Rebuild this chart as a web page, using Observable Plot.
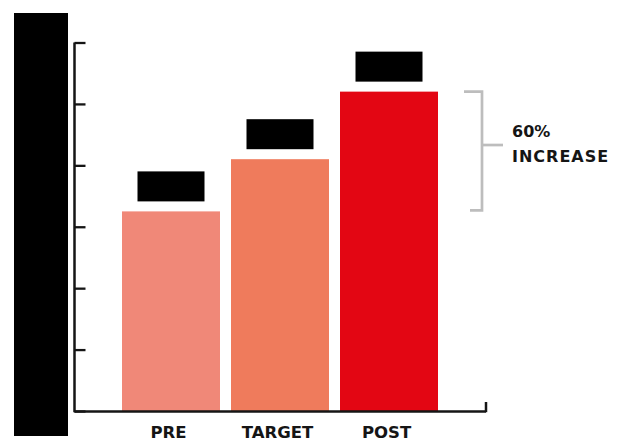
<!DOCTYPE html>
<html>
<head>
<meta charset="utf-8">
<script src="https://cdn.jsdelivr.net/npm/d3@7"></script>
<script src="https://cdn.jsdelivr.net/npm/@observablehq/plot@0.6"></script>
<style>
  body { margin: 0; background: #fff; }
  #chart { position: relative; width: 624px; height: 441px; }
</style>
</head>
<body>
<div id="chart"></div>
<script>
// Phases and measured values
const phases = ["PRE", "TARGET", "POST"];
const values = [32.5, 41, 52];
const barColors = ["#F08878", "#EF7B5C", "#E30613"];
const yTicks = [0, 10, 20, 30, 40, 50, 60];

const data = phases.map((phase, i) => ({phase, value: values[i]}));

const W = 624, H = 441;
const marginLeft = 74.5, marginRight = 138, marginTop = 42.5, marginBottom = 30;
const ink = "#151515";

const chart = Plot.plot({
  width: W,
  height: H,
  marginLeft, marginRight, marginTop, marginBottom,
  style: {fontFamily: "DejaVu Sans", background: "white", overflow: "visible"},
  x: {domain: phases, paddingInner: 0.1, paddingOuter: 0.425, label: null},
  y: {domain: [0, 60], label: null},
  color: {domain: phases, range: barColors},
  marks: [
    Plot.barY(data, {x: "phase", y: "value", fill: "phase"}),
    // dark plates sitting just above each bar
    Plot.barY(data, {
      x: "phase", y1: "value", y2: "value",
      insetLeft: 15.5, insetRight: 15.5, insetTop: -40, insetBottom: 10,
      fill: "black"
    }),
    Plot.axisY({ticks: yTicks, tickSize: -11, tickFormat: () => "", stroke: ink, strokeWidth: 2.3}),
    Plot.axisX({tickSize: 0, tickPadding: 15, fontSize: 16.5, fontWeight: "bold", dx: -3, fill: ink}),
    Plot.ruleY([0], {stroke: ink, strokeWidth: 2.3})
  ]
});

document.getElementById("chart").append(chart);

const svg = d3.select(chart);
const y = v => chart.scale("y").apply(v);
const x0 = marginLeft, x1 = W - marginRight;

// vertical axis line and closing tick at the right end of the baseline
svg.append("line")
  .attr("x1", x0).attr("x2", x0).attr("y1", y(60)).attr("y2", y(0) + 1.2)
  .attr("stroke", ink).attr("stroke-width", 2.5);
svg.append("line")
  .attr("x1", x1).attr("x2", x1).attr("y1", y(0) - 9).attr("y2", y(0) + 1.2)
  .attr("stroke", ink).attr("stroke-width", 2.5);

// block over the vertical axis labels
svg.append("rect")
  .attr("x", 14).attr("y", 13).attr("width", 54).attr("height", 423)
  .attr("fill", "black");

// bracket spanning PRE to POST with the percentage change
const pre = values[0], post = values[2];
const change = Math.round((post / pre - 1) * 100);
const yTop = y(post), yBot = y(pre) - 1;
const yMid = (yTop + yBot) / 2 - 6;
const bx = 482;
const gray = "#BDBDBD";
const br = svg.append("g").attr("stroke", gray).attr("stroke-width", 2.7).attr("fill", "none");
br.append("path")
  .attr("d", `M464,${yTop}H${bx}V${yBot}H470`);
br.append("line")
  .attr("x1", bx).attr("x2", 503).attr("y1", yMid).attr("y2", yMid);

const t = svg.append("g")
  .attr("font-family", "DejaVu Sans").attr("font-weight", "bold")
  .attr("font-size", 16).attr("fill", ink).attr("text-anchor", "start");
t.append("text").attr("x", 512).attr("y", yMid - 8).text(`${change}%`);
t.append("text").attr("x", 512).attr("y", yMid + 17)
  .attr("letter-spacing", 1).text("INCREASE");
</script>
</body>
</html>
